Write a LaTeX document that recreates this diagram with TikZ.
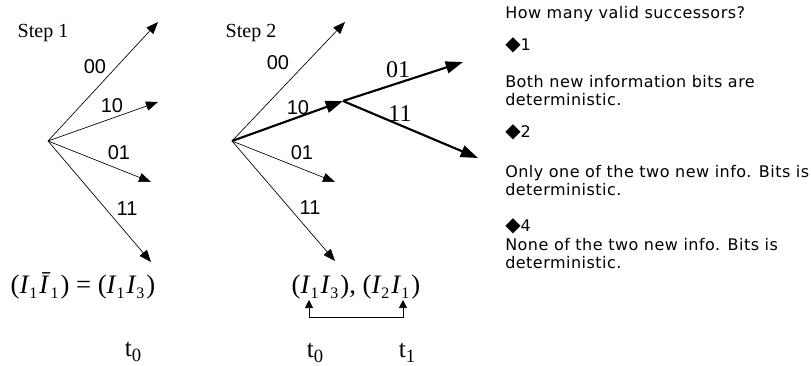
\documentclass[tikz,border=0pt]{standalone}
\usepackage{fontspec}
\setmainfont{Liberation Serif}
\newfontfamily\labelfont{Liberation Sans}
\newfontfamily\notefont[LetterSpace=3]{DejaVu Sans}
\usetikzlibrary{positioning}
\usetikzlibrary{arrows.meta}

\newcommand{\isub}[1]{\raisebox{-0.4ex}{\fontsize{12}{12}\selectfont #1}\kern1.5pt}
\newcommand{\tlab}[1]{{\fontsize{19}{22}\selectfont t\raisebox{-0.45ex}{\fontsize{14}{14}\selectfont #1}}}
\newcommand{\dmd}{{\fontsize{15}{15}\selectfont ◆}}

\begin{document}
\begin{tikzpicture}[x=0.75pt,y=-0.75pt,
    branch/.style={line width=0.5pt,-{Triangle[length=9pt,width=7pt]}},
    boldbranch/.style={line width=1.6pt,-{Triangle[length=13pt,width=9pt]}},
    bits/.style={font=\labelfont\fontsize{15}{17}\selectfont},
    boldbits/.style={font=\fontsize{18}{20}\selectfont},
    steptitle/.style={font=\fontsize{15}{17}\selectfont},
    note/.style={anchor=west,inner sep=0pt,font=\notefont\fontsize{12}{14}\selectfont,
        text height=9pt,text depth=2.5pt}]
    \useasboundingbox (0,0) rectangle (811,365);

    % step 1
    \node[steptitle] (title1) at (43,33) {Step 1};
    \coordinate (root1) at (48,141);
    \foreach \tx/\ty/\bit/\lx/\ly [count=\k] in
        {158/22/00/95/67, 158/102/10/112/106, 151/182/01/119/153, 151/262/11/127/209} {
        \coordinate (tipa\k) at (\tx,\ty);
        \draw[branch] (root1) -- (tipa\k);
        \node[bits] (bita\k) at (\lx,\ly) {\bit};
    }
    \node (pair1) at (83,286) {\fontsize{20}{24}\selectfont
        (\textit{I}\isub{1}\textit{Ī}\isub{1}) = (\textit{I}\isub{1}\textit{I}\isub{3})};
    \node (time1) at (133,352) {\tlab{0}};

    % step 2
    \node[steptitle] (title2) at (251,33) {Step 2};
    \coordinate (root2) at (232,141);
    \coordinate (mid2) at (343,101);
    \foreach \tx/\ty/\bit/\lx/\ly [count=\k] in
        {345/22/00/278/63, 335/182/01/302/153, 335/261/11/310/208} {
        \coordinate (tipb\k) at (\tx,\ty);
        \draw[branch] (root2) -- (tipb\k);
        \node[bits] (bitb\k) at (\lx,\ly) {\bit};
    }
    \draw[boldbranch] (root2) -- (mid2);
    \node[bits] (bitb4) at (298,108) {10};
    \coordinate (tipc1) at (463,62);
    \coordinate (tipc2) at (478,158);
    \draw[boldbranch] (mid2) -- (tipc1);
    \draw[boldbranch] (mid2) -- (tipc2);
    \node[boldbits] (bitc1) at (398,70) {01};
    \node[boldbits] (bitc2) at (400,114) {11};

    \node (pair2) at (356,287) {\fontsize{20}{24}\selectfont
        (\textit{I}\isub{1}\textit{I}\isub{3}), (\textit{I}\isub{2}\textit{I}\isub{1})};
    \coordinate (mark0) at (309,300);
    \coordinate (mark1) at (403,300);
    \draw[line width=0.5pt,{Triangle[length=6pt,width=6pt]}-{Triangle[length=6pt,width=6pt]}]
        (mark0) -- ++(0,17) -| (mark1);
    \node (time2) at (315,353) {\tlab{0}};
    \node (time3) at (407,353) {\tlab{1}};

    % notes
    \node[note] (ask) at (505,14) {How many valid successors?};
    \node[note] (one) at (505,46) {\dmd1};
    \node[note] (onea) at (505,83) {Both new information bits are};
    \node[note] (oneb) at (505,101) {deterministic.};
    \node[note] (two) at (505,133) {\dmd2};
    \node[note] (twoa) at (505,173) {Only one of the two new info. Bits is};
    \node[note] (twob) at (505,191) {deterministic.};
    \node[note] (four) at (505,227) {\dmd4};
    \node[note] (foura) at (505,246) {None of the two new info. Bits is};
    \node[note] (fourb) at (505,264) {deterministic.};
\end{tikzpicture}
\end{document}
